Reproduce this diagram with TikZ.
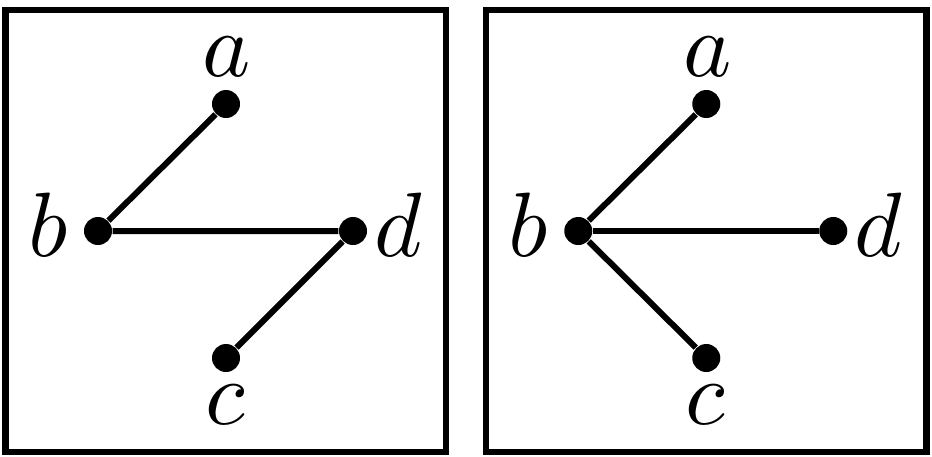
\documentclass[tikz,border=0pt]{standalone}

\begin{document}
\begin{tikzpicture}[x=0.01cm, y=-0.01cm,
	dot/.style={circle, fill=black, inner sep=0pt, minimum size=0.28cm},
	lbl/.style={inner sep=0pt, scale=2.6},
	frame/.style={draw, line width=0.065cm},
	edge/.style={draw, line width=0.06cm}]
	\useasboundingbox (0,0) rectangle (932,457);

	% left tree: path a - b - d - c
	\draw[frame] (5.5,10) rectangle (446,452);
	\node[dot] (a1) at (226,104) {};
	\node[dot] (b1) at (98,231)  {};
	\node[dot] (d1) at (353,231) {};
	\node[dot] (c1) at (226,358) {};
	\node[lbl] (la1) at (227,57)  {$a$};
	\node[lbl] (lb1) at (48,225)  {$b$};
	\node[lbl] (ld1) at (398,225) {$d$};
	\node[lbl] (lc1) at (225,405) {$c$};
	\draw[edge] (a1) -- (b1) -- (d1) -- (c1);

	% right tree: star centred on b
	\begin{scope}[xshift=4.8cm]
	\draw[frame] (5.5,10) rectangle (446,452);
	\node[dot] (a2) at (226,104) {};
	\node[dot] (b2) at (98,231)  {};
	\node[dot] (d2) at (353,231) {};
	\node[dot] (c2) at (226,358) {};
	\node[lbl] (la2) at (227,57)  {$a$};
	\node[lbl] (lb2) at (48,225)  {$b$};
	\node[lbl] (ld2) at (398,225) {$d$};
	\node[lbl] (lc2) at (225,405) {$c$};
	\draw[edge] (b2) -- (a2);
	\draw[edge] (b2) -- (d2);
	\draw[edge] (b2) -- (c2);
	\end{scope}
\end{tikzpicture}
\end{document}
